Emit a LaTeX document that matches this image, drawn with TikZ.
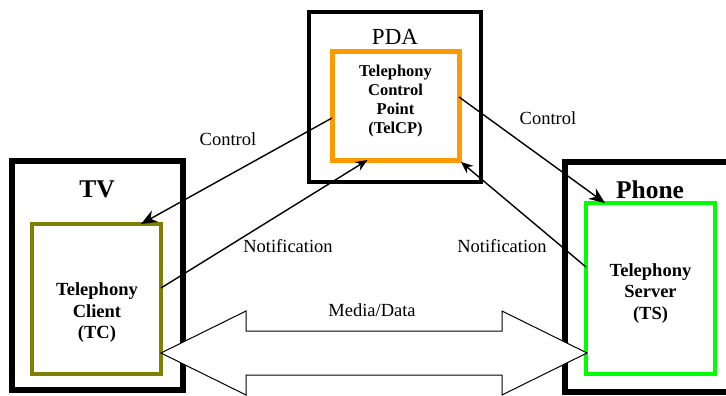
\documentclass[tikz,border=0pt]{standalone}
\usepackage{fontspec}
\setmainfont{Liberation Serif}
\usetikzlibrary{arrows.meta,calc}
\definecolor{olivebox}{RGB}{128,128,0}
\definecolor{orangebox}{RGB}{255,153,0}
\definecolor{greenbox}{RGB}{0,255,0}
\begin{document}
\begin{tikzpicture}[x=1pt,y=-1pt,
  device/.style={draw=black, line width=5pt, inner sep=0pt, outer sep=0pt},
  module/.style={draw=#1, line width=4.5pt, fill=white, inner sep=0pt, outer sep=0pt},
  lbl/.style={font=\fontsize{18.5}{21}\selectfont, inner sep=0pt},
  devlbl/.style={font=\bfseries\fontsize{25.5}{28}\selectfont, inner sep=0pt},
  modtext/.style={font=\bfseries\fontsize{18.5}{21.5}\selectfont, align=center, inner sep=0pt},
  ctrl/.style={line width=1.4pt, -{Stealth[length=16pt,width=13pt]}},
  notif/.style={line width=1.4pt, -{Stealth[length=12pt,width=10pt]}}]
\clip (0,0) rectangle (726,396);
\fill[white] (0,0) rectangle (726,396);
% devices
\node[device, line width=3.5pt, minimum width=172pt, minimum height=170pt] (pda) at (395,97) {};
\node[device, line width=6pt, minimum width=171pt, minimum height=229pt] (tv) at (97.5,275.5) {};
\node[device, line width=6pt, minimum width=175pt, minimum height=230pt] (phone) at (652.5,277) {};
% modules
\node[module=orangebox, line width=5pt, minimum width=127pt, minimum height=108pt] (telcp) at (395.5,106) {};
\node[module=olivebox, minimum width=129pt, minimum height=150pt] (tc) at (96.5,299) {};
\node[module=greenbox, minimum width=129pt, minimum height=171pt] (ts) at (650.5,288.5) {};
% device labels
\node[lbl, font=\fontsize{23}{26}\selectfont] (pdal) at (395,37) {PDA};
\node[devlbl] (tvl) at (97,189) {TV};
\node[devlbl] (phonel) at (650,190) {Phone};
% module texts
\node[modtext, font=\bfseries\fontsize{16.5}{19}\selectfont] (telcpt) at (395.5,101.5) {Telephony\\Control\\Point\\(TelCP)};
\node[modtext] (tct) at (97,313) {Telephony\\Client\\(TC)};
\node[modtext] (tst) at (650.5,293.5) {Telephony\\Server\\(TS)};
% connectors
\draw[ctrl] ([yshift=-12pt]telcp.west) -- ([xshift=-20pt]tc.north east);
\draw[notif] ([yshift=11pt]tc.east) -- ([xshift=-28pt]telcp.south);
\draw[ctrl] ([yshift=9pt]telcp.east) -- ([xshift=19pt]ts.north west);
\draw[notif] ([yshift=21.5pt]ts.west) -- ([xshift=2pt,yshift=-2pt]telcp.south east);
% connector labels
\node[lbl] (c1) at (228,139) {Control};
\node[lbl] (c2) at (548,118) {Control};
\node[lbl] (n1) at (288,246) {Notification};
\node[lbl] (n2) at (502,246) {Notification};
\node[lbl] (md) at (372,310) {Media/Data};
% media/data double arrow
\coordinate (L) at (161,353);
\coordinate (R) at (587,353);
\draw[line width=1pt, fill=white] (L) -- ++(85,-42) -- ++(0,20) -- ++(256,0) -- ++(0,-20)
  -- (R) -- ++(-85,42) -- ++(0,-20) -- ++(-256,0) -- ++(0,20) -- cycle;
\end{tikzpicture}
\end{document}
